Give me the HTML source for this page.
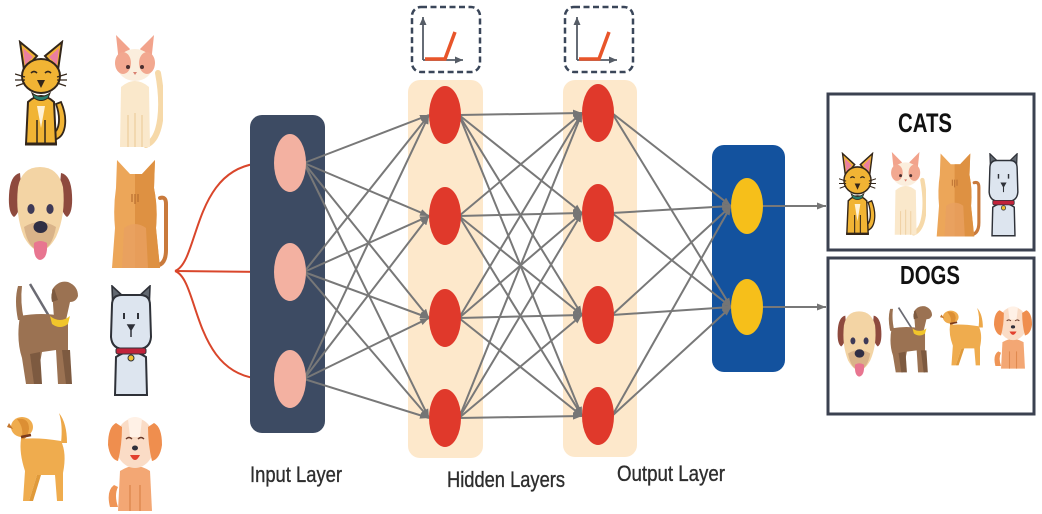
<!DOCTYPE html>
<html>
<head>
<meta charset="utf-8">
<style>
html,body{margin:0;padding:0;background:#fff;}
body{width:1042px;height:514px;overflow:hidden;}
svg{display:block;}
</style>
</head>
<body>
<svg width="1042" height="514" viewBox="0 0 1042 514" xmlns="http://www.w3.org/2000/svg">
<defs>
 <marker id="ah" markerUnits="userSpaceOnUse" markerWidth="9" markerHeight="7" refX="9" refY="3.5" orient="auto">
  <path d="M0,0 L9,3.5 L0,7 Z" fill="#757575"/>
 </marker>
 <marker id="ahd" markerUnits="userSpaceOnUse" markerWidth="8" markerHeight="7" refX="8" refY="3.5" orient="auto">
  <path d="M0,0 L8,3.5 L0,7 Z" fill="#555c66"/>
 </marker>

 <symbol id="catY" viewBox="0 0 52 108" preserveAspectRatio="none">
  <path d="M38,100 C52,98 53,78 46,62 L41,64 C46,78 45,92 36,94 Z" fill="#f1b434" stroke="#33261a" stroke-width="1.8"/>
  <path d="M11,104 L13,62 Q26,50 39,62 L41,104 Z" fill="#f1b434" stroke="#33261a" stroke-width="2"/>
  <path d="M22,104 L22,80 M30,104 L30,80" stroke="#33261a" stroke-width="1.5"/>
  <path d="M22,66 L26,88 L30,66 Z" fill="#fff2d6"/>
  <path d="M5,2 L22,16 L9,30 Z" fill="#f1b434" stroke="#33261a" stroke-width="2"/>
  <path d="M47,2 L30,16 L43,30 Z" fill="#f1b434" stroke="#33261a" stroke-width="2"/>
  <path d="M8,8 L18,17 L10,25 Z" fill="#ea7fa0"/>
  <path d="M44,8 L34,17 L42,25 Z" fill="#ea7fa0"/>
  <ellipse cx="26" cy="36" rx="19" ry="17" fill="#f1b434" stroke="#33261a" stroke-width="2"/>
  <path d="M16,33 q3,-3 6,0 M30,33 q3,-3 6,0" stroke="#33261a" stroke-width="1.6" fill="none"/>
  <path d="M22,40 L30,40 L26,48 Z" fill="#33261a"/>
  <path d="M0,34 L10,37 M0,40 L10,40 M1,46 L10,43 M52,34 L42,37 M52,40 L42,40 M51,46 L42,43" stroke="#33261a" stroke-width="1.3"/>
  <path d="M17,53 Q26,60 35,53 L33,58 Q26,63 19,58 Z" fill="#2a7e6e" stroke="#33261a" stroke-width="1"/>
  <path d="M10,104 L42,104" stroke="#33261a" stroke-width="3"/>
 </symbol>

 <symbol id="catC" viewBox="0 0 55 115" preserveAspectRatio="none">
  <path d="M38,110 C54,104 56,70 50,38" stroke="#f6d9a9" stroke-width="6" fill="none" stroke-linecap="round"/>
  <path d="M12,112 L13,52 Q27,40 41,52 L42,112 Z" fill="#fae8cb"/>
  <path d="M20,112 L20,80 M27,112 L27,78 M34,112 L34,80" stroke="#f0d2a6" stroke-width="1.5"/>
  <path d="M8,0 L22,14 L11,28 Z" fill="#f2a38c"/>
  <path d="M46,0 L32,14 L43,28 Z" fill="#f2a38c"/>
  <ellipse cx="27" cy="30" rx="18" ry="16" fill="#fbeedd"/>
  <ellipse cx="15" cy="28" rx="8" ry="11" fill="#f2a890"/>
  <ellipse cx="39" cy="28" rx="8" ry="11" fill="#f2a890"/>
  <circle cx="20" cy="32" r="2" fill="#4a3030"/>
  <circle cx="34" cy="32" r="2" fill="#4a3030"/>
  <path d="M25,37 L29,37 L27,40 Z" fill="#d98070"/>
 </symbol>

 <symbol id="dogF" viewBox="0 0 65 97" preserveAspectRatio="none">
  <path d="M12,8 Q2,10 1,30 Q0,48 6,52 Q12,48 14,30 Z" fill="#8e4a3e"/>
  <path d="M53,8 Q63,10 64,30 Q65,48 59,52 Q53,48 51,30 Z" fill="#8e4a3e"/>
  <path d="M10,22 Q14,2 32,2 Q50,2 55,22 Q58,50 48,72 Q40,86 32,86 Q24,86 16,72 Q7,50 10,22 Z" fill="#f3d4a4"/>
  <path d="M16,62 Q32,52 48,62 Q44,84 32,86 Q20,84 16,62 Z" fill="#d9b389"/>
  <ellipse cx="23" cy="44" rx="3.6" ry="5" fill="#3e3a57"/>
  <ellipse cx="42" cy="44" rx="3.6" ry="5" fill="#3e3a57"/>
  <ellipse cx="32.5" cy="62" rx="7" ry="6" fill="#2f2e44"/>
  <path d="M26,78 Q32,74 39,78 Q40,94 32,95 Q25,94 26,78 Z" fill="#e87590"/>
 </symbol>

 <symbol id="catO" viewBox="0 0 64 112" preserveAspectRatio="none">
  <path d="M48,108 Q60,108 60,92 L60,46 Q60,38 54,40" stroke="#c97a3c" stroke-width="4" fill="none" stroke-linecap="round"/>
  <path d="M10,30 L11,2 L24,16 L36,16 L49,2 L48,30 Q52,50 50,70 L54,110 L6,110 L9,70 Q7,50 10,30 Z" fill="#eca659"/>
  <path d="M29,16 L36,16 L49,2 L48,30 Q52,50 50,70 L54,110 L29,110 Z" fill="#de9142"/>
  <path d="M18,70 Q29,62 40,70 L42,110 L16,110 Z" fill="#e8a060" opacity="0.8"/>
  <path d="M26,36 L26,44 M29,36 L29,46 M32,36 L32,44" stroke="#b86e30" stroke-width="1.2"/>
 </symbol>

 <symbol id="dogB" viewBox="0 0 66 108" preserveAspectRatio="none">
  <path d="M18,4 L44,48" stroke="#6b6b73" stroke-width="2.5"/>
  <path d="M6,6 Q2,20 6,40 L12,40 Q8,22 10,6 Z" fill="#9b7252"/>
  <path d="M8,36 Q30,32 50,36 L56,40 L56,104 L46,104 L44,70 L30,72 L24,104 L14,104 L10,78 Q4,60 8,36 Z" fill="#9b7252"/>
  <path d="M18,74 L22,104 L30,104 L28,72 Z" fill="#7d5a40"/>
  <path d="M50,70 L54,104 L60,104 L58,70 Z" fill="#7d5a40"/>
  <path d="M40,10 Q46,0 56,2 Q66,6 66,16 Q64,22 58,22 L54,40 L42,38 Z" fill="#9b7252"/>
  <path d="M42,8 Q38,14 40,22 L46,20 Z" fill="#7d5a40"/>
  <path d="M38,36 Q48,44 58,36 L56,44 Q48,50 40,44 Z" fill="#f1c52b"/>
 </symbol>

 <symbol id="catG" viewBox="0 0 46 113" preserveAspectRatio="none">
  <path d="M7,110 L8,72 Q23,62 38,72 L39,110 Z" fill="#dde5ef" stroke="#2e3138" stroke-width="2"/>
  <path d="M4,1 L18,14 L5,26 Z" fill="#626870" stroke="#2e3138" stroke-width="1.6"/>
  <path d="M42,1 L28,14 L41,26 Z" fill="#626870" stroke="#2e3138" stroke-width="1.6"/>
  <path d="M4,20 Q4,10 14,10 L32,10 Q42,10 42,20 L43,52 Q42,64 30,64 L16,64 Q4,64 3,52 Z" fill="#dde5ef" stroke="#2e3138" stroke-width="2"/>
  <path d="M16,28 L16,34 M30,28 L30,34" stroke="#2e3138" stroke-width="2"/>
  <path d="M20,40 L26,40 L23,45 Z M23,45 L23,52" fill="#2e3138" stroke="#2e3138" stroke-width="1.5"/>
  <rect x="8" y="63" width="30" height="6" rx="2" fill="#c1233a" stroke="#2e3138" stroke-width="1"/>
  <circle cx="23" cy="73" r="3" fill="#f0c030" stroke="#2e3138" stroke-width="1"/>
 </symbol>

 <symbol id="dogO" viewBox="0 0 63 89" preserveAspectRatio="none">
  <path d="M54,30 Q56,12 52,0 Q60,10 60,30 Z" fill="#eda849"/>
  <path d="M14,26 Q30,24 54,28 Q60,40 56,60 L56,88 L50,88 L48,62 L30,62 L22,88 L16,88 L18,58 Q12,40 14,26 Z" fill="#efac4e"/>
  <ellipse cx="15" cy="14" rx="11" ry="10" fill="#efac4e"/>
  <path d="M2,10 L0,14 L6,16 Z" fill="#c4762c"/>
  <path d="M10,6 Q22,4 22,16 Q20,28 14,26 Q18,16 10,6 Z" fill="#dc8f34"/>
  <path d="M14,24 L24,22" stroke="#7a3a1c" stroke-width="2.5"/>
  <path d="M30,62 L22,88 L26,88 L34,62 Z" fill="#e09a3a"/>
 </symbol>

 <symbol id="dogW" viewBox="0 0 54 98" preserveAspectRatio="none">
  <path d="M2,92 Q-2,76 6,70 L10,72 Q6,80 10,92 Z" fill="#ef9556"/>
  <path d="M10,96 L12,56 Q27,46 42,56 L44,96 Z" fill="#f3a774"/>
  <path d="M22,96 L22,70 M32,96 L32,70" stroke="#e08a50" stroke-width="1.5"/>
  <ellipse cx="27" cy="28" rx="20" ry="25" fill="#fadcc6"/>
  <path d="M20,4 Q27,0 34,4 L32,22 L22,22 Z" fill="#fff1e6"/>
  <path d="M8,8 Q0,12 0,30 Q2,44 10,46 Q14,30 14,12 Z" fill="#ef8e4e"/>
  <path d="M46,8 Q54,12 54,30 Q52,44 44,46 Q40,30 40,12 Z" fill="#ef8e4e"/>
  <path d="M18,24 q3,-3 6,0 M30,24 q3,-3 6,0" stroke="#6a3a2a" stroke-width="1.4" fill="none"/>
  <ellipse cx="27" cy="33" rx="3" ry="2.5" fill="#2f2f3a"/>
  <path d="M22,40 Q27,50 32,40 Z" fill="#e2402e"/>
 </symbol>
</defs>

<!-- Left animals -->
<use href="#catY" x="15" y="40" width="52" height="108"/>
<use href="#catC" x="108" y="35" width="55" height="115"/>
<use href="#dogF" x="8" y="165" width="65" height="97"/>
<use href="#catO" x="106" y="158" width="64" height="112"/>
<use href="#dogB" x="12" y="280" width="66" height="108"/>
<use href="#catG" x="108" y="285" width="46" height="113"/>
<use href="#dogO" x="7" y="413" width="63" height="89"/>
<use href="#dogW" x="108" y="415" width="54" height="98"/>

<!-- Red input connector -->
<g stroke="#d9462b" stroke-width="2" fill="none">
 <path d="M175,271 C200,262 192,163 266,163"/>
 <path d="M175,271 L266,272"/>
 <path d="M175,271 C200,280 192,379 266,379"/>
</g>
<g fill="#d9462b">
 <circle cx="266" cy="163" r="3"/>
 <circle cx="266" cy="272" r="3"/>
 <circle cx="266" cy="379" r="3"/>
</g>

<!-- Layer backgrounds -->
<rect x="250" y="115" width="75" height="318" rx="12" fill="#3d4b63"/>
<rect x="408" y="80" width="75" height="378" rx="12" fill="#fde8cb"/>
<rect x="563" y="80" width="74" height="377" rx="12" fill="#fde8cb"/>
<rect x="712" y="145" width="73" height="227" rx="12" fill="#13529e"/>

<!-- Activation boxes -->
<g fill="none">
 <rect x="412" y="7" width="68" height="65" rx="9" stroke="#3a4659" stroke-width="2.5" stroke-dasharray="6 3.5"/>
 <path d="M423,60 L423,17" stroke="#555c66" stroke-width="1.8" marker-end="url(#ahd)"/>
 <path d="M423,60 L463,60" stroke="#555c66" stroke-width="1.8" marker-end="url(#ahd)"/>
 <polyline points="425,59 445,59 455,32" stroke="#e8552a" stroke-width="3.5"/>
 <rect x="565" y="7" width="68" height="65" rx="9" stroke="#3a4659" stroke-width="2.5" stroke-dasharray="6 3.5"/>
 <path d="M577,60 L577,17" stroke="#555c66" stroke-width="1.8" marker-end="url(#ahd)"/>
 <path d="M577,60 L617,60" stroke="#555c66" stroke-width="1.8" marker-end="url(#ahd)"/>
 <polyline points="579,59 599,59 609,32" stroke="#e8552a" stroke-width="3.5"/>
</g>

<!-- Connections -->
<g stroke="#787878" stroke-width="2" marker-end="url(#ah)">
 <line x1="304" y1="163" x2="429" y2="115"/>
 <line x1="304" y1="163" x2="429" y2="216"/>
 <line x1="304" y1="163" x2="429" y2="318"/>
 <line x1="304" y1="163" x2="429" y2="418"/>
 <line x1="304" y1="272" x2="429" y2="115"/>
 <line x1="304" y1="272" x2="429" y2="216"/>
 <line x1="304" y1="272" x2="429" y2="318"/>
 <line x1="304" y1="272" x2="429" y2="418"/>
 <line x1="304" y1="379" x2="429" y2="115"/>
 <line x1="304" y1="379" x2="429" y2="216"/>
 <line x1="304" y1="379" x2="429" y2="318"/>
 <line x1="304" y1="379" x2="429" y2="418"/>

 <line x1="459" y1="115" x2="582" y2="113"/>
 <line x1="459" y1="115" x2="582" y2="213"/>
 <line x1="459" y1="115" x2="582" y2="315"/>
 <line x1="459" y1="115" x2="582" y2="416"/>
 <line x1="459" y1="216" x2="582" y2="113"/>
 <line x1="459" y1="216" x2="582" y2="213"/>
 <line x1="459" y1="216" x2="582" y2="315"/>
 <line x1="459" y1="216" x2="582" y2="416"/>
 <line x1="459" y1="318" x2="582" y2="113"/>
 <line x1="459" y1="318" x2="582" y2="213"/>
 <line x1="459" y1="318" x2="582" y2="315"/>
 <line x1="459" y1="318" x2="582" y2="416"/>
 <line x1="459" y1="418" x2="582" y2="113"/>
 <line x1="459" y1="418" x2="582" y2="213"/>
 <line x1="459" y1="418" x2="582" y2="315"/>
 <line x1="459" y1="418" x2="582" y2="416"/>

 <line x1="612" y1="113" x2="731" y2="206"/>
 <line x1="612" y1="113" x2="731" y2="307"/>
 <line x1="612" y1="213" x2="731" y2="206"/>
 <line x1="612" y1="213" x2="731" y2="307"/>
 <line x1="612" y1="315" x2="731" y2="206"/>
 <line x1="612" y1="315" x2="731" y2="307"/>
 <line x1="612" y1="416" x2="731" y2="206"/>
 <line x1="612" y1="416" x2="731" y2="307"/>

 <line x1="763" y1="206" x2="826" y2="206"/>
 <line x1="763" y1="307" x2="826" y2="307"/>
</g>

<!-- Nodes -->
<g fill="#f3b1a1">
 <ellipse cx="290" cy="163" rx="16" ry="29"/>
 <ellipse cx="290" cy="272" rx="16" ry="29"/>
 <ellipse cx="290" cy="379" rx="16" ry="29"/>
</g>
<g fill="#e0392b">
 <ellipse cx="445" cy="115" rx="16" ry="29"/>
 <ellipse cx="445" cy="216" rx="16" ry="29"/>
 <ellipse cx="445" cy="318" rx="16" ry="29"/>
 <ellipse cx="445" cy="418" rx="16" ry="29"/>
 <ellipse cx="598" cy="113" rx="16" ry="29"/>
 <ellipse cx="598" cy="213" rx="16" ry="29"/>
 <ellipse cx="598" cy="315" rx="16" ry="29"/>
 <ellipse cx="598" cy="416" rx="16" ry="29"/>
</g>
<g fill="#f6bf1a">
 <ellipse cx="747" cy="206" rx="16" ry="28"/>
 <ellipse cx="747" cy="307" rx="16" ry="28"/>
</g>

<!-- Output category boxes -->
<rect x="828" y="94" width="206" height="156" fill="#fff" stroke="#3b4150" stroke-width="3"/>
<rect x="828" y="258" width="206" height="156" fill="#fff" stroke="#3b4150" stroke-width="3"/>
<text x="898" y="132" textLength="54" lengthAdjust="spacingAndGlyphs" font-family="Liberation Sans, sans-serif" font-weight="bold" font-size="27" fill="#111">CATS</text>
<text x="900" y="284" textLength="60" lengthAdjust="spacingAndGlyphs" font-family="Liberation Sans, sans-serif" font-weight="bold" font-size="26" fill="#111">DOGS</text>

<use href="#catY" x="839" y="152" width="37" height="85"/>
<use href="#catC" x="886" y="152" width="40" height="85"/>
<use href="#catO" x="932" y="152" width="50" height="86"/>
<use href="#catG" x="987" y="153" width="33" height="85"/>

<use href="#dogF" x="837" y="310" width="45" height="68"/>
<use href="#dogB" x="886" y="305" width="46" height="70"/>
<use href="#dogO" x="940" y="308" width="45" height="58"/>
<use href="#dogW" x="994" y="305" width="38" height="65"/>

<!-- Labels -->
<g font-family="Liberation Sans, sans-serif" font-size="22" fill="#2e2e2e" stroke="#2e2e2e" stroke-width="0.35">
 <text x="250" y="482" textLength="92" lengthAdjust="spacingAndGlyphs">Input Layer</text>
 <text x="447" y="487" textLength="118" lengthAdjust="spacingAndGlyphs">Hidden Layers</text>
 <text x="617" y="481" textLength="108" lengthAdjust="spacingAndGlyphs">Output Layer</text>
</g>
</svg>
</body>
</html>
